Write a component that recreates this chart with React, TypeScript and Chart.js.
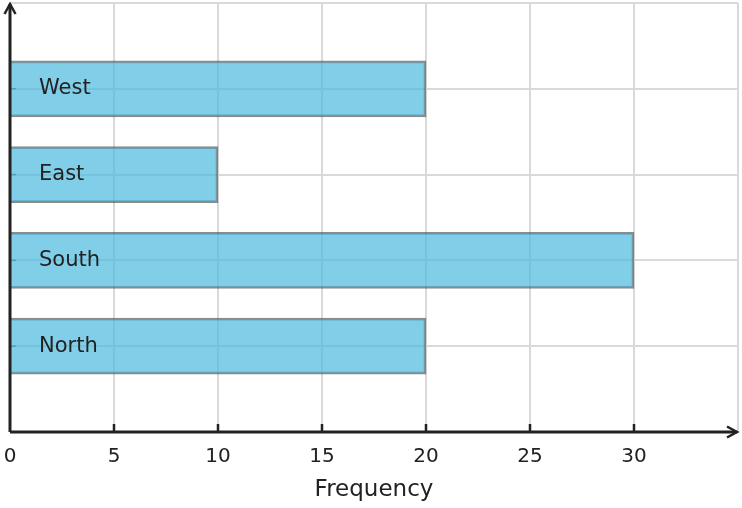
import { useEffect, useRef } from 'react'
import { Chart, registerables } from 'chart.js'

Chart.register(...registerables)

// regions, top to bottom (empty slots keep the gaps above and below)
const regions = ['', 'West', 'East', 'South', 'North', '']
const frequency = [null, 20, 10, 30, 20, null]
const xTicks = [0, 5, 10, 15, 20, 25, 30]
const xMax = 35

const FONT = 'DejaVu Sans'
const INK = '#222222'

// draws the arrow axes and the small inward ticks
const arrowAxes = {
  id: 'arrowAxes',
  beforeDatasetsDraw(chart: any) {
    const { ctx, chartArea: a, scales } = chart
    ctx.save()
    ctx.strokeStyle = '#666'
    ctx.lineWidth = 1.5
    regions.forEach((r, i) => {
      if (!r) return
      const y = scales.y.getPixelForValue(i)
      ctx.beginPath()
      ctx.moveTo(a.left, y)
      ctx.lineTo(a.left + 6, y)
      ctx.stroke()
    })
    ctx.restore()
  },
  afterDatasetsDraw(chart: any) {
    const { ctx, chartArea: a, scales } = chart
    ctx.save()
    ctx.strokeStyle = INK
    ctx.lineWidth = 2.5
    ctx.lineCap = 'butt'
    // x ticks pointing up
    xTicks.forEach((v) => {
      if (v === 0) return
      const x = scales.x.getPixelForValue(v)
      ctx.beginPath()
      ctx.moveTo(x, a.bottom)
      ctx.lineTo(x, a.bottom - 8)
      ctx.stroke()
    })
    ctx.lineWidth = 3
    ctx.beginPath()
    ctx.moveTo(a.left, a.bottom)
    ctx.lineTo(a.left, a.top + 1)
    ctx.moveTo(a.left, a.bottom)
    ctx.lineTo(a.right - 1, a.bottom)
    ctx.stroke()
    ctx.lineWidth = 2.5
    ctx.lineJoin = 'miter'
    ctx.beginPath()
    ctx.moveTo(a.left - 5.5, a.top + 11)
    ctx.lineTo(a.left, a.top + 1)
    ctx.lineTo(a.left + 5.5, a.top + 11)
    ctx.moveTo(a.right - 11, a.bottom - 5.5)
    ctx.lineTo(a.right - 1, a.bottom)
    ctx.lineTo(a.right - 11, a.bottom + 5.5)
    ctx.stroke()
    ctx.restore()
  },
}

const App = () => {
  const canvasRef = useRef<HTMLCanvasElement | null>(null)
  const chartRef = useRef<Chart | null>(null)

  useEffect(() => {
    const ctx = canvasRef.current?.getContext('2d')
    if (!ctx) return

    chartRef.current = new Chart(ctx, {
      type: 'bar',
      data: {
        labels: regions,
        datasets: [
          {
            data: frequency,
            backgroundColor: 'rgba(76, 185, 222, 0.7)',
            borderColor: 'rgba(90, 90, 90, 0.7)',
            borderWidth: 2,
            barThickness: 56,
          },
        ],
      },
      options: {
        indexAxis: 'y',
        animation: false,
        responsive: true,
        maintainAspectRatio: false,
        layout: { padding: { left: 10, top: 3, right: 4, bottom: 0 } },
        plugins: { legend: { display: false }, tooltip: { enabled: false } },
        scales: {
          x: {
            type: 'linear',
            min: 0,
            max: xMax,
            border: { display: false },
            grid: { color: '#d9d9d9', lineWidth: 2, drawTicks: false },
            ticks: {
              stepSize: 5,
              padding: 13,
              maxRotation: 0,
              color: INK,
              font: { family: FONT, size: 20 },
              callback: (v: any) => (xTicks.includes(v) ? String(v) : ''),
            },
            title: {
              display: true,
              text: 'Frequency',
              color: INK,
              font: { family: FONT, size: 23 },
              padding: { top: 8, bottom: 4 },
            },
            afterFit: (s: any) => {
              s.height = 76
              s.paddingLeft = 0
              s.paddingRight = 0
            },
          },
          y: {
            type: 'category',
            offset: false,
            border: { display: false },
            grid: { color: '#d9d9d9', lineWidth: 2, drawTicks: false, offset: false },
            ticks: {
              mirror: true,
              padding: 29,
              z: 1,
              color: INK,
              font: { family: FONT, size: 21 },
            },
            afterFit: (s: any) => {
              s.width = 0
              s.paddingTop = 0
              s.paddingBottom = 0
            },
          },
        },
      },
      plugins: [arrowAxes],
    })
    return () => chartRef.current?.destroy()
  }, [])

  return (
    <div style={{ position: 'fixed', left: 0, top: 0, width: 742, height: 508, background: '#fff' }}>
      <canvas ref={canvasRef} />
    </div>
  )
}

export default App
